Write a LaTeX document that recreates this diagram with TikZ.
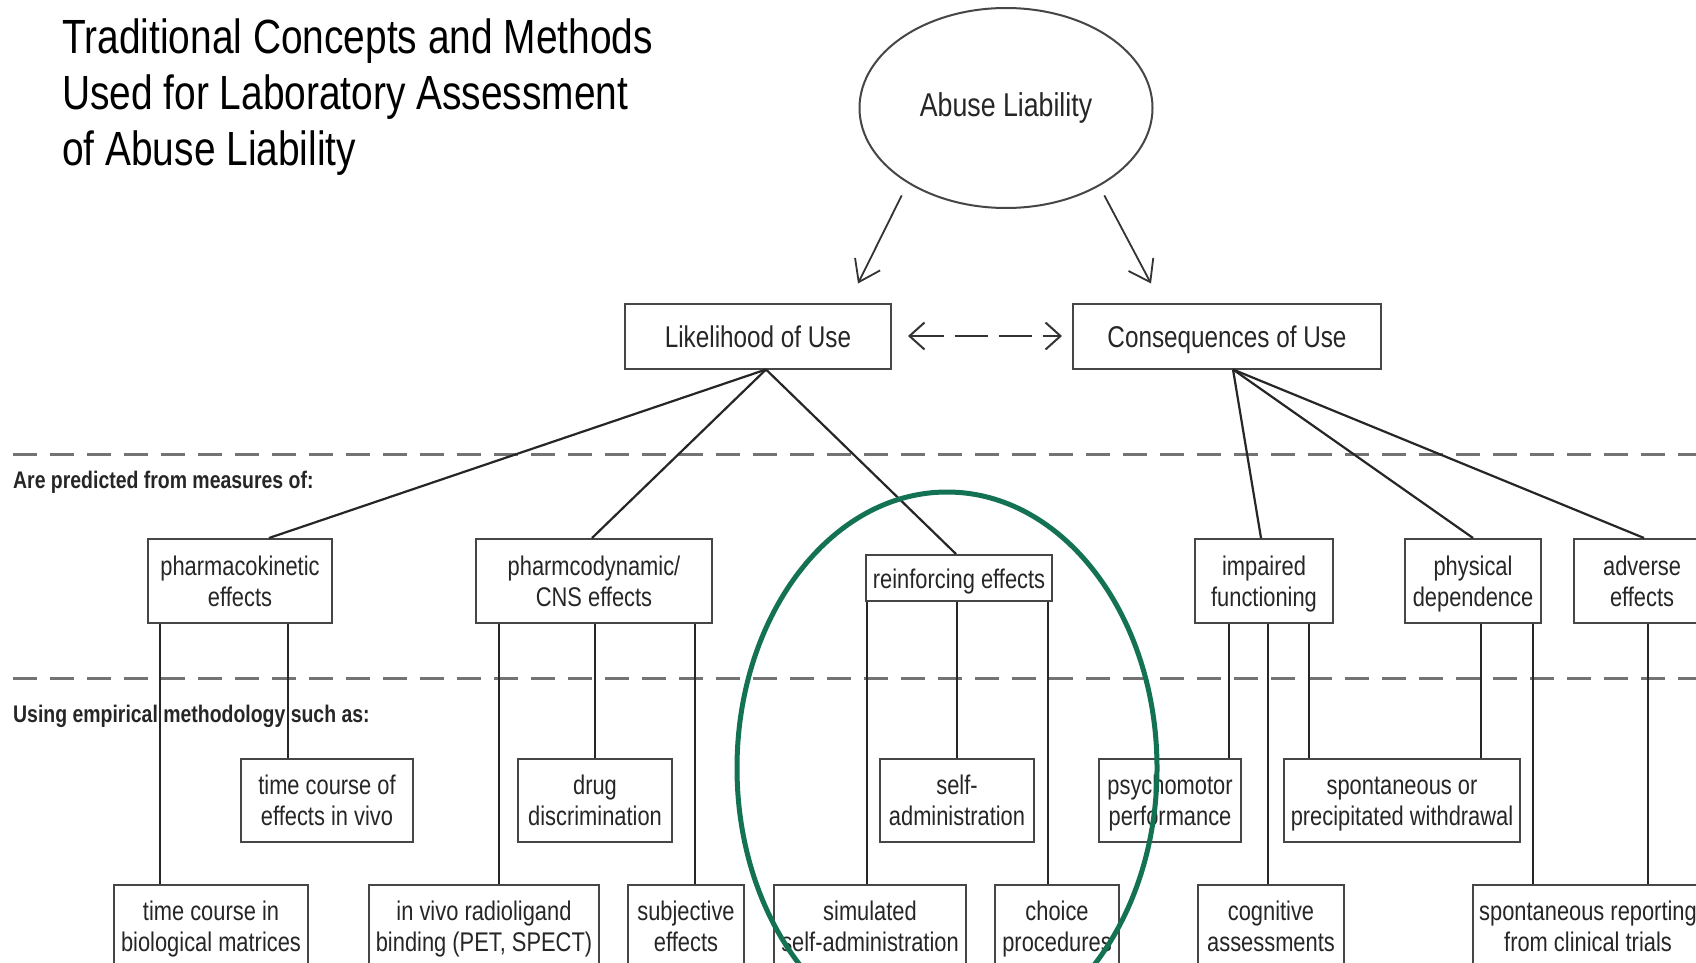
\documentclass[tikz,border=0pt]{standalone}
\usepackage{fontspec}
\setmainfont[FakeStretch=0.81]{Liberation Sans}
\usepackage[x11names]{xcolor}
\usetikzlibrary{arrows.meta,shapes.geometric}
\definecolor{hilite}{RGB}{19,114,84}
\definecolor{boxgray}{RGB}{70,70,70}
\definecolor{dashgray}{RGB}{115,115,115}
\tikzset{
  box/.style={draw=boxgray,line width=2pt,align=center,inner sep=0pt,text=black!85,font=\fontsize{27}{31}\selectfont,
    text height=51pt,text depth=0pt},
  onebox/.style={box,text height=27pt,text depth=6pt},
  topbox/.style={box,minimum height=65pt,font=\fontsize{30}{34}\selectfont,text height=29pt,text depth=7pt},
  link/.style={draw=black!85,line width=2.2pt},
  divider/.style={draw=dashgray,line width=3pt,dash pattern=on 24pt off 13pt},
  barb/.style={-{Straight Barb[length=20pt,width=28pt]},line width=1.8pt,black!80},
  label/.style={anchor=west,inner sep=0pt,text=black!85,font=\bfseries\fontsize{24}{28}\selectfont},
}

\begin{document}
\begin{tikzpicture}[x=1pt,y=-1pt]
\clip (0,0) rectangle (1696,963);
\fill[white] (0,0) rectangle (1696,963);
\node[anchor=north west,align=left,inner sep=0pt,font=\fontsize{48}{55.7}\selectfont] (title) at (62,19) {Traditional Concepts and Methods\\Used for Laboratory Assessment\\of Abuse Liability};
\node[ellipse,draw=boxgray,line width=2pt,minimum width=293pt,minimum height=200pt,inner sep=0pt,text=black!85,font=\fontsize{33}{38}\selectfont] (abuse) at (1006,108) {Abuse Liability};
\node[topbox,minimum width=266pt] (likely) at (758,336) {Likelihood of Use};
\node[topbox,minimum width=308pt] (conseq) at (1227,336) {Consequences of Use};
\draw[barb] ([yshift=-16pt]abuse.south west) -- ([xshift=100pt,yshift=19pt]likely.north);
\draw[barb] ([xshift=-6pt,yshift=-16pt]abuse.south east) -- ([xshift=-76pt,yshift=19pt]conseq.north);
\draw[{Straight Barb[length=15pt,width=27pt]}-{Straight Barb[length=15pt,width=27pt]},line width=2pt,black!80,dash pattern=on 33pt off 11pt,shorten <=16pt,shorten >=10pt] (likely.east) -- (conseq.west);
\draw[divider] (13,454) -- (1696,454);
\draw[divider] (13,678) -- (1696,678);
\node[label] (predlbl) at (13,482) {Are predicted from measures of:};
\node[label] (methlbl) at (13,716) {Using empirical methodology such as:};
\node[box,minimum width=184pt,minimum height=84pt] (pharmk) at (240,581) {pharmacokinetic\\effects};
\node[box,minimum width=236pt,minimum height=84pt] (pharmd) at (594,581) {pharmcodynamic/\\CNS effects};
\node[onebox,minimum width=186pt,minimum height=46pt] (reinf) at (959,578) {reinforcing effects};
\node[box,minimum width=138pt,minimum height=84pt] (impair) at (1264,581) {impaired\\functioning};
\node[box,minimum width=136pt,minimum height=84pt] (physdep) at (1473,581) {physical\\dependence};
\node[box,minimum width=136pt,minimum height=84pt] (adverse) at (1642,581) {adverse\\effects};
\node[box,minimum width=172pt,minimum height=83pt] (tcvivo) at (327,800) {time course of\\effects in vivo};
\node[box,minimum width=154pt,minimum height=83pt] (drugdisc) at (595,800) {drug\\discrimination};
\node[box,minimum width=154pt,minimum height=83pt] (selfadm) at (957,800) {self-\\administration};
\node[box,minimum width=142pt,minimum height=83pt] (psycho) at (1170,800) {psychomotor\\performance};
\node[box,minimum width=236pt,minimum height=83pt] (withdr) at (1402,800) {spontaneous or\\precipitated withdrawal};
\node[box,minimum width=194pt,minimum height=83pt] (tcbio) at (211,926) {time course in\\biological matrices};
\node[box,minimum width=230pt,minimum height=83pt] (radiolig) at (484,926) {in vivo radioligand\\binding (PET, SPECT)};
\node[box,minimum width=116pt,minimum height=83pt] (subj) at (686,926) {subjective\\effects};
\node[box,minimum width=192pt,minimum height=83pt] (simself) at (870,926) {simulated\\self-administration};
\node[box,minimum width=124pt,minimum height=83pt] (choice) at (1057,926) {choice\\procedures};
\node[box,minimum width=146pt,minimum height=83pt] (cognit) at (1271,926) {cognitive\\assessments};
\node[box,minimum width=230pt,minimum height=83pt] (spontrep) at (1588,926) {spontaneous reporting\\from clinical trials};
\draw[link] ([xshift=8pt]likely.south) -- ([xshift=29pt]pharmk.north);
\draw[link] ([xshift=8pt]likely.south) -- ([xshift=-2pt]pharmd.north);
\draw[link] ([xshift=8pt]likely.south) -- ([xshift=-3pt]reinf.north);
\draw[link] ([xshift=6pt]conseq.south) -- ([xshift=-3pt]impair.north);
\draw[link] ([xshift=6pt]conseq.south) -- (physdep.north);
\draw[link] ([xshift=6pt]conseq.south) -- ([xshift=2pt]adverse.north);
\draw[link] ([xshift=-80pt]pharmk.south) -- ([xshift=-51pt]tcbio.north);
\draw[link] ([xshift=48pt]pharmk.south) -- ([xshift=-39pt]tcvivo.north);
\draw[link] ([xshift=-95pt]pharmd.south) -- ([xshift=15pt]radiolig.north);
\draw[link] ([xshift=1pt]pharmd.south) -- (drugdisc.north);
\draw[link] ([xshift=101pt]pharmd.south) -- ([xshift=9pt]subj.north);
\draw[link] ([xshift=-92pt]reinf.south) -- ([xshift=-3pt]simself.north);
\draw[link] ([xshift=-2pt]reinf.south) -- (selfadm.north);
\draw[link] ([xshift=89pt]reinf.south) -- ([xshift=-9pt]choice.north);
\draw[link] ([xshift=-35pt]impair.south) -- ([xshift=59pt]psycho.north);
\draw[link] ([xshift=4pt]impair.south) -- ([xshift=-3pt]cognit.north);
\draw[link] ([xshift=45pt]impair.south) -- ([xshift=-93pt]withdr.north);
\draw[link] ([xshift=8pt]physdep.south) -- ([xshift=79pt]withdr.north);
\draw[link] ([xshift=60pt]physdep.south) -- ([xshift=-55pt]spontrep.north);
\draw[link] ([xshift=6pt]adverse.south) -- ([xshift=60pt]spontrep.north);
\draw[hilite,line width=5pt] (947,768) ellipse [x radius=210, y radius=276];
\end{tikzpicture}
\end{document}
